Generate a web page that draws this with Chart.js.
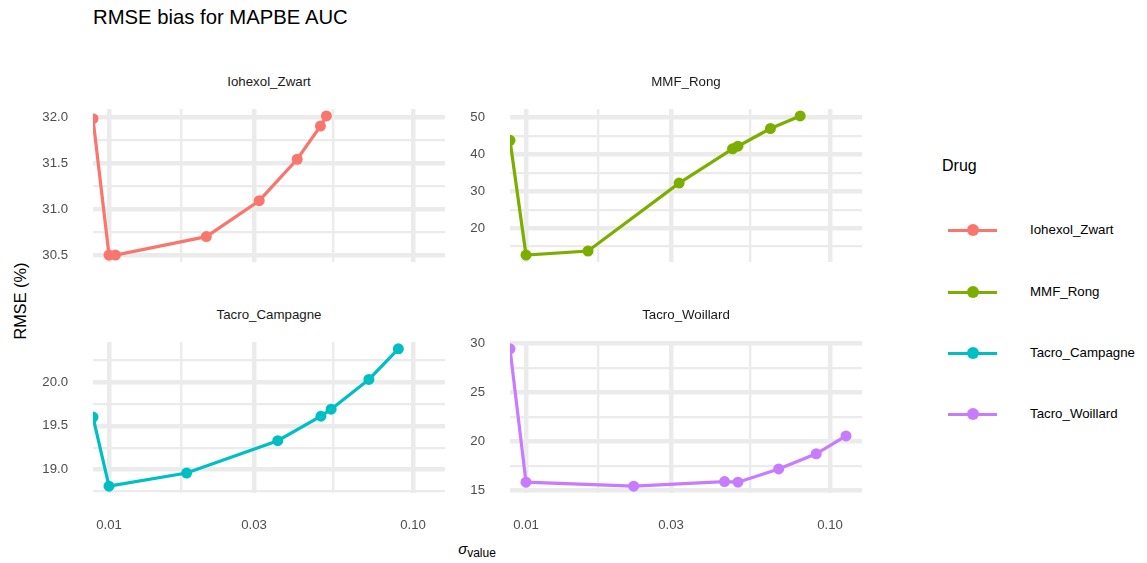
<!DOCTYPE html>
<html>
<head>
<meta charset="utf-8">
<script src="https://cdn.jsdelivr.net/npm/chart.js@4/dist/chart.umd.min.js"></script>
<style>
  html, body { margin: 0; padding: 0; background: #ffffff; }
  body { width: 1147px; height: 563px; position: relative; overflow: hidden;
         font-family: "Liberation Sans", Arial, Helvetica, sans-serif; }
  .abs { position: absolute; }
  canvas.panel { position: absolute; }
  .strip { position: absolute; font-size: 13.3px; color: #1A1A1A; text-align: center; width: 352px; line-height: 16px; }
  #title { left: 93px; top: 5px; font-size: 20.3px; color: #000; line-height: 24px; }
  #ytitle { left: 20px; top: 301px; font-size: 16.3px; color: #000; transform: translate(-50%, -50%) rotate(-90deg); white-space: nowrap; }
  #xtitle { left: 477px; top: 550px; font-size: 15px; color: #000; transform: translate(-50%, -50%); white-space: nowrap; }
  #xtitle sub { font-size: 12px; vertical-align: -3px; }
  #legtitle { left: 942px; top: 156px; font-size: 16px; color: #000; line-height: 20px; }
  .lkey { position: absolute; width: 49px; height: 12px; }
  .lkey .ln { position: absolute; left: 0; top: 4.5px; width: 49px; height: 3px; }
  .lkey .pt { position: absolute; left: 18.5px; top: 0; width: 12px; height: 12px; border-radius: 50%; }
  .llab { position: absolute; font-size: 13.3px; color: #000; line-height: 16px; }
</style>
</head>
<body>
<div id="title" class="abs">RMSE bias for MAPBE AUC</div>
<div id="ytitle" class="abs">RMSE (%)</div>
<div id="xtitle" class="abs"><i>σ</i><sub>value</sub></div>
<div id="legtitle" class="abs">Drug</div>
<div id="legend"></div>

<script>
// ---------------- DATA ----------------
const drugs = ["Iohexol_Zwart", "MMF_Rong", "Tacro_Campagne", "Tacro_Woillard"];
const drugColors = ["#F8766D", "#7CAE00", "#00BFC4", "#C77CFF"];

// sigma_value (0 = lowest setting, drawn at the panel's left edge like ggplot's -Inf on a log axis)
const sigmaIohexol   = [0, 0.0100, 0.0105, 0.0209, 0.0312, 0.0416, 0.0496, 0.0519];
const rmseIohexol    = [31.98, 30.50, 30.50, 30.70, 31.09, 31.54, 31.90, 32.01];

const sigmaMMF       = [0, 0.0100, 0.0160, 0.0319, 0.0478, 0.0498, 0.0637, 0.0798];
const rmseMMF        = [43.8, 12.7, 13.8, 32.2, 41.5, 42.2, 47.0, 50.4];

const sigmaCampagne  = [0, 0.0100, 0.0180, 0.0359, 0.0498, 0.0538, 0.0716, 0.0895];
const rmseCampagne   = [19.60, 18.81, 18.96, 19.33, 19.61, 19.69, 20.03, 20.38];

const sigmaWoillard  = [0, 0.0100, 0.0226, 0.0450, 0.0498, 0.0678, 0.0901, 0.1129];
const rmseWoillard   = [29.42, 15.83, 15.43, 15.89, 15.83, 17.18, 18.73, 20.55];

// tick breaks and labels
const xBreaks = [0.01, 0.03, 0.10];
const xLabels = ["0.01", "0.03", "0.10"];

const yBreaksIohexol  = [30.5, 31.0, 31.5, 32.0];
const yLabelsIohexol  = ["30.5", "31.0", "31.5", "32.0"];
const yBreaksMMF      = [20, 30, 40, 50];
const yLabelsMMF      = ["20", "30", "40", "50"];
const yBreaksCampagne = [19.0, 19.5, 20.0];
const yLabelsCampagne = ["19.0", "19.5", "20.0"];
const yBreaksWoillard = [15, 20, 25, 30];
const yLabelsWoillard = ["15", "20", "25", "30"];

// ---------------- LAYOUT ----------------
const FONT = '"Liberation Sans", Arial, Helvetica, sans-serif';
const colX = [93, 510];
const PW = 352;
const rowY = [[109, 262], [342, 493]];
const LEFTM = 80, TOPM = 10, RIGHTM = 10;

// shared log x-range with ggplot's 5% expansion
const allSig = [].concat(sigmaIohexol, sigmaMMF, sigmaCampagne, sigmaWoillard).filter(v => v > 0);
const lmin = Math.log10(Math.min(...allSig)), lmax = Math.log10(Math.max(...allSig));
const lexp = (lmax - lmin) * 0.05;
const xMin = Math.pow(10, lmin - lexp), xMax = Math.pow(10, lmax + lexp);

const panels = [
  { sig: sigmaIohexol,  val: rmseIohexol,  yb: yBreaksIohexol,  yl: yLabelsIohexol,  col: 0, row: 0 },
  { sig: sigmaMMF,      val: rmseMMF,      yb: yBreaksMMF,      yl: yLabelsMMF,      col: 1, row: 0 },
  { sig: sigmaCampagne, val: rmseCampagne, yb: yBreaksCampagne, yl: yLabelsCampagne, col: 0, row: 1 },
  { sig: sigmaWoillard, val: rmseWoillard, yb: yBreaksWoillard, yl: yLabelsWoillard, col: 1, row: 1 }
];

function xTickList() {
  const t = xBreaks.map((v, i) => ({ value: v, m: true, lab: xLabels[i] }));
  for (let i = 0; i < xBreaks.length - 1; i++) t.push({ value: Math.sqrt(xBreaks[i] * xBreaks[i + 1]), m: false, lab: "" });
  return t.filter(o => o.value >= xMin && o.value <= xMax).sort((a, b) => a.value - b.value);
}
function yTickList(b, l, mn, mx) {
  const t = b.map((v, i) => ({ value: v, m: true, lab: l[i] }));
  const step = b[1] - b[0];
  const mids = [b[0] - step / 2, b[b.length - 1] + step / 2];
  for (let i = 0; i < b.length - 1; i++) mids.push((b[i] + b[i + 1]) / 2);
  mids.forEach(v => t.push({ value: v, m: false, lab: "" }));
  return t.filter(o => o.value >= mn && o.value <= mx).sort((a, b2) => a.value - b2.value);
}

panels.forEach((p, i) => {
  const x0 = colX[p.col], y0 = rowY[p.row][0], y1 = rowY[p.row][1];
  const bottomAxis = p.row === 1;
  const xh = bottomAxis ? 45 : 10;
  const cv = document.createElement('canvas');
  cv.className = 'panel';
  const W = LEFTM + PW + RIGHTM, H = TOPM + (y1 - y0) + xh;
  cv.style.left = (x0 - LEFTM) + 'px';
  cv.style.top = (y0 - TOPM) + 'px';
  cv.style.width = W + 'px'; cv.style.height = H + 'px';
  cv.width = W; cv.height = H;
  document.body.appendChild(cv);

  // strip label
  const s = document.createElement('div');
  s.className = 'strip';
  s.textContent = drugs[i];
  s.style.left = x0 + 'px';
  s.style.top = (p.row === 0 ? 74 : 307) + 'px';
  document.body.appendChild(s);

  const vmin = Math.min(...p.val), vmax = Math.max(...p.val);
  const e = (vmax - vmin) * 0.05;
  const yMin = vmin - e, yMax = vmax + e;
  const pts = p.sig.map((sv, k) => ({ x: sv > 0 ? sv : xMin, y: p.val[k] }));
  const xt = xTickList(), yt = yTickList(p.yb, p.yl, yMin, yMax);

  new Chart(cv, {
    type: 'line',
    data: { datasets: [{
      label: drugs[i], data: pts,
      borderColor: drugColors[i], backgroundColor: drugColors[i],
      borderWidth: 3.2, pointRadius: 5.5, pointHoverRadius: 5.5,
      pointBorderWidth: 0, tension: 0, fill: false
    }]},
    options: {
      responsive: false, animation: false, devicePixelRatio: 1,
      layout: { padding: { left: 0, top: TOPM, right: RIGHTM, bottom: 0 } },
      plugins: { legend: { display: false }, tooltip: { enabled: false }, title: { display: false } },
      scales: {
        x: {
          type: 'logarithmic', min: xMin, max: xMax,
          afterBuildTicks: sc => { sc.ticks = xt.map(o => ({ value: o.value, m: o.m, lab: o.lab })); },
          afterFit: sc => { sc.height = xh; sc.paddingLeft = 0; sc.paddingRight = 0; },
          border: { display: false },
          grid: { color: '#EBEBEB', drawTicks: false,
                  lineWidth: c => (c.tick && c.tick.m) ? 4.5 : 2.3 },
          ticks: { display: bottomAxis, autoSkip: false, maxRotation: 0, padding: 24,
                   color: '#4D4D4D', font: { family: FONT, size: 13.2 },
                   callback: function (v, idx, ticks) { return ticks[idx].lab; } }
        },
        y: {
          type: 'linear', min: yMin, max: yMax,
          afterBuildTicks: sc => { sc.ticks = yt.map(o => ({ value: o.value, m: o.m, lab: o.lab })); },
          afterFit: sc => { sc.width = LEFTM; sc.paddingTop = 0; sc.paddingBottom = 0; },
          border: { display: false },
          grid: { color: '#EBEBEB', drawTicks: false,
                  lineWidth: c => (c.tick && c.tick.m) ? 4.5 : 2.3 },
          ticks: { autoSkip: false, padding: 25, color: '#4D4D4D', font: { family: FONT, size: 13.2 },
                   callback: function (v, idx, ticks) { return ticks[idx].lab; } }
        }
      }
    }
  });
});

// legend
const legY = [230, 292, 353, 414];
const leg = document.getElementById('legend');
drugs.forEach((d, i) => {
  const k = document.createElement('div');
  k.className = 'lkey';
  k.style.left = '948px'; k.style.top = (legY[i] - 6) + 'px';
  k.innerHTML = '<div class="ln" style="background:' + drugColors[i] + '"></div><div class="pt" style="background:' + drugColors[i] + '"></div>';
  leg.appendChild(k);
  const l = document.createElement('div');
  l.className = 'llab';
  l.textContent = d;
  l.style.left = '1030px'; l.style.top = (legY[i] - 8) + 'px';
  leg.appendChild(l);
});
</script>
</body>
</html>
